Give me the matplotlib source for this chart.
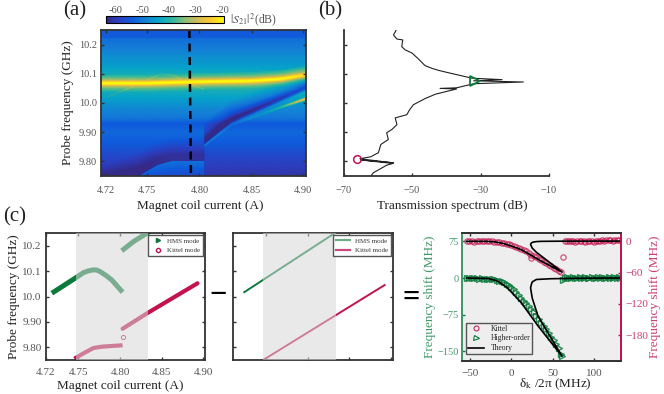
import matplotlib
matplotlib.use('Agg')
import matplotlib.pyplot as plt
from matplotlib.colors import LinearSegmentedColormap
from matplotlib.lines import Line2D
import numpy as np

plt.rcParams['font.family'] = ['Liberation Serif', 'DejaVu Serif']
plt.rcParams['mathtext.fontset'] = 'stix'

W, H = 664, 394
GREEN = '#0b7a3b'
CRIMSON = '#c2124f'
DARK = '#333333'
GRAY = '#555555'

parula = ['#352a87', '#2c3fc0', '#0f5cdd', '#1481d6', '#06a4ca', '#2eb7a4',
          '#87bf77', '#d1bb59', '#fec832', '#f9fb0e']

# panel (a): tables
base_freq = [9.75, 9.78, 9.82, 9.86, 9.90, 9.93, 9.95, 9.98, 10.00, 10.03, 10.05, 10.08,
             10.10, 10.13, 10.16, 10.20, 10.222, 10.23, 10.25]
base_db = [-61, -59, -57, -54, -52, -54, -50, -48, -46, -43, -41, -41,
           -42, -45, -47, -50, -51, -54, -54]
peak_offset = [-0.05, -0.03, -0.018, -0.01, -0.005, 0.0, 0.005, 0.01, 0.018, 0.03, 0.05]
peak_db = [-70, -41, -36, -30, -22, -18, -22, -30, -36, -41, -70]
ridge_i = [4.70, 4.75, 4.80, 4.85, 4.88, 4.905]
ridge_f = [10.07, 10.07, 10.075, 10.078, 10.085, 10.10]
arc_i = [4.712, 4.735, 4.7635, 4.775, 4.792, 4.805]
arc_f = [10.022, 10.055, 10.103, 10.098, 10.063, 10.05]
low_i = [4.70, 4.741, 4.76, 4.773, 4.805]
low_f = [9.70, 9.75, 9.79, 9.803, 9.805]
kit_i = [4.805, 4.83, 4.90, 4.905]
kit_f = [9.868, 9.94, 10.049, 10.057]
dip_offset = [-0.05, -0.01, -0.003, 0.004, 0.012, 0.03, 0.07]
dip_db = [0, 0, -10, -16, -11, -5, 0]
bright_i = [4.805, 4.83, 4.86, 4.88, 4.90, 4.905]
bright_sep = [0.012, 0.014, 0.022, 0.028, 0.035, 0.036]
bright_db = [6, 3, 4, 10, 22, 22]
bar_ticks = [-60, -50, -40, -30, -20]
dash_i = [4.7905, 4.792]
dash_f = [10.25, 9.75]

# panel (b)
spec_db = [-54.6, -55.4, -54.4, -52.7, -53, -52, -50, -48.4, -47.2, -46.2, -44, -42, -39.5, -36.9, -32.5,
           -23.7, -32, -17.5, -32, -37, -41.8, -37, -43.2, -46.2, -49.6, -50.8, -51.5, -54.9,
           -54.4, -55.8, -57.4, -56.9, -59.1, -59.8, -62, -65.2, -55.4, -65, -55.6, -57.4, -61.3, -62]
spec_f = [10.25, 10.233, 10.219, 10.216, 10.193, 10.182, 10.171, 10.154, 10.14, 10.128, 10.118, 10.111, 10.104, 10.097, 10.085,
          10.08, 10.076, 10.072, 10.066, 10.052, 10.05, 10.048, 10.03, 10.015, 9.994, 9.975, 9.96, 9.949,
          9.926, 9.91, 9.898, 9.875, 9.858, 9.83, 9.816, 9.809, 9.795, 9.805, 9.793, 9.787, 9.761, 9.75]

# panel (c), left and middle
hms1_i = [4.718, 4.746, 4.756, 4.762, 4.768, 4.772, 4.776, 4.783, 4.79, 4.803]
hms1_f = [10.013, 10.072, 10.094, 10.101, 10.105, 10.104, 10.098, 10.083, 10.065, 10.017]
hms2_i = [4.802, 4.816, 4.835]
hms2_f = [10.18, 10.216, 10.255]
kit1_i = [4.745, 4.757, 4.768, 4.775, 4.78, 4.803]
kit1_f = [9.755, 9.778, 9.797, 9.801, 9.803, 9.808]
kit2_i = [4.803, 4.834, 4.893]
kit2_f = [9.873, 9.937, 10.052]
bare_hms_i = [4.7235, 4.835]
bare_hms_f = [10.015, 10.255]
bare_kit_i = [4.747, 4.893]
bare_kit_f = [9.75, 10.047]

# panel (c), right
kit_x = [-54, -51, -48, -45, -42, -39, -36, -33, -30, -27, -24, -21, -18, -15, -12, -9, -6, -3, 0, 3, 6, 9,
         12, 15, 18, 21, 24, 24, 27, 30, 33, 36, 39, 42, 45, 48, 51, 54, 57, 60, 62,
         64, 67, 69, 72, 74, 77, 79, 82, 84, 87, 89, 92, 94, 97, 99, 102, 104, 107, 109, 112, 114, 117, 119, 122, 124, 127, 129]
kit_y = [1, 0, 1, -1, 0, 1, 0, 1, 0, 1, 0, -1, -2, -2, -3, -4, -5, -5, -7, -9, -10, -12,
         -14, -16, -19, -22, -26, -32, -28, -30, -33, -36, -39, -42, -45, -48, -51, -53, -56, -59, -30,
         1, 0, 1, 0, 1, -1, 1, 0, 0, 1, -1, 0, 1, 0, -1, 1, 0, 1, 2, 1, 3, 2, 3, 1, 2, 3, 2]
hms_x = [-54, -51, -48, -45, -42, -39, -36, -33, -30, -27, -24, -21, -18, -15, -12, -9, -6, -3, 0, 3, 6, 9,
         12, 15, 18, 21, 24, 27, 30, 33, 36, 39, 42, 45, 48, 51, 54, 57, 60, 61, 62,
         64, 67, 69, 72, 74, 77, 79, 82, 84, 87, 89, 92, 94, 97, 99, 102, 104, 107, 109, 112, 114, 117, 119, 122, 124, 127, 129, 131]
hms_y = [1, 0, 1, 0, 0, -1, 0, -1, -1, -2, -2, -3, -4, -6, -7, -9, -13, -15, -18, -23, -28, -34,
         -41, -46, -52, -57, -63, -70, -77, -84, -91, -98, -105, -112, -120, -127, -135, -143, -155, -159, -5,
         1, 2, 0, 1, 2, 0, 1, 3, 1, 0, 2, 1, 0, 2, 1, 0, 2, 1, 3, 0, 1, 2, 1, 0, 3, 1, 2, 1]
th_kit_x = [-54, -30, -20, -10, 0, 12, 24, 36, 48, 61, 44, 30, 25, 23, 24, 26, 30, 36, 60, 131]
th_kit_y = [0, 0, -1, -4, -9, -16, -27, -38, -48, -59, -38, -21, -13, -6, -3, -1.5, -0.5, 0, 0.3, 0.5]
th_hms_x = [-54, -28, -17, -5, 12, 32, 61, 32, 25, 23, 24, 25, 30, 47, 80, 131]
th_hms_y = [0, -1, -6, -20, -51, -98, -160, -78, -41, -20, -13, -8, -3, -1.5, -0.5, 0]
x_ticks = [-50, 0, 50, 100]
left_ticks = [75, 0, -75, -150]
right_ticks = [0, -60, -120, -180]


def px_axes(fig, left, top, right, bottom):
    return fig.add_axes([left / W, 1 - bottom / H, (right - left) / W, (bottom - top) / H])


def style_axes(ax, size=7.5):
    for s in ax.spines.values():
        s.set_linewidth(1.3)
        s.set_color(DARK)
    ax.tick_params(direction='in', length=2.5, width=1, color=DARK, labelcolor=GRAY,
                   labelsize=size, pad=3)


fig = plt.figure(figsize=(W / 100, H / 100), dpi=100)

# (a)
ax = px_axes(fig, 101, 30, 306, 176)
cur = np.linspace(4.706, 4.902, 420)
frq = np.linspace(9.75, 10.25, 400)
II, FF = np.meshgrid(cur, frq)
Z = np.interp(FF, base_freq, base_db)
Z = np.maximum(Z, np.interp(FF - np.interp(II, ridge_i, ridge_f), peak_offset, peak_db))
left = II < 4.805
# thin HMS arc
d = FF - np.interp(II, arc_i, arc_f)
Z = np.where(left & (II > 4.712) & (np.abs(d) < 0.002) & (Z < -30), Z + 3, Z)
# low branch left of the jump
d = FF - np.interp(II, low_i, low_f)
Z = np.where(left & (d < 0), Z + np.interp(d, [-0.06, -0.004, 0], [4, 7, 6]), Z)
Z = np.where(left & (d >= 0), Z - np.interp(d, [0, 0.02, 0.08], [4, 5, 0]), Z)
# kittel line right of the jump
d = FF - np.interp(II, kit_i, kit_f)
Z = np.where(~left, Z + np.interp(d, dip_offset, dip_db), Z)
d = FF - np.interp(II, kit_i, kit_f) + np.interp(II, bright_i, bright_sep)
amp = np.interp(II, bright_i, bright_db)
Z = np.where(~left, Z + amp * np.interp(d, [-0.008, 0, 0.008], [0, 1, 0]), Z)
cmap = LinearSegmentedColormap.from_list('parula', parula)
mesh = ax.pcolormesh(cur, frq, Z, cmap=cmap, vmin=-63.5, vmax=-19.5, shading='gouraud', rasterized=True)
ax.plot(dash_i, dash_f, color='black', lw=1.8, dashes=(3.2, 2.2))
ax.set_xlim(4.706, 4.902)
ax.set_ylim(9.75, 10.25)
ax.set_xticks([4.711, 4.75, 4.80, 4.85, 4.899])
ax.set_xticklabels(['4.72', '4.75', '4.80', '4.85', '4.90'])
ax.set_yticks([9.8, 9.9, 10.0, 10.1, 10.2])
ax.set_yticklabels(['9.80', '9.90', '10.0', '10.1', '10.2'])
style_axes(ax)
ax.tick_params(top=True, right=True)
ax.tick_params(axis='x', pad=7)
ax.set_xlabel('Magnet coil current (A)', fontsize=9.5, color='#222222', labelpad=4, x=0.485)
ax.set_ylabel('Probe frequency (GHz)', fontsize=9.5, color='#222222', labelpad=3)

cax = px_axes(fig, 106, 16, 224, 23)
cb = fig.colorbar(mesh, cax=cax, orientation='horizontal')
cb.set_ticks(bar_ticks)
cb.set_ticklabels([str(t) for t in bar_ticks])
cax.xaxis.set_ticks_position('top')
cax.tick_params(length=0, labelsize=7.5, labelcolor=GRAY, pad=1)
cb.outline.set_linewidth(0.8)
fig.text(230 / W, 1 - 19.5 / H, r'$|S_{21}|^2$(dB)', fontsize=8.5, color=GRAY, va='center')

# (b)
ax = px_axes(fig, 343.5, 30, 549, 176)
ax.plot(spec_db, spec_f, color='#222222', lw=0.8)
ax.plot([-31.5], [10.076], marker='>', ms=7, mfc='none', mec=GREEN, mew=1.3)
ax.plot([-66], [9.807], marker='o', ms=5.5, mfc='none', mec=CRIMSON, mew=1.1)
ax.set_xlim(-70, -10)
ax.set_ylim(9.75, 10.25)
ax.set_xticks([-70, -50, -30, -10])
ax.set_yticks([9.8, 9.9, 10.0, 10.1, 10.2])
ax.set_yticklabels([])
style_axes(ax)
ax.spines['top'].set_visible(False)
ax.spines['right'].set_visible(False)
ax.tick_params(axis='x', pad=7)
ax.set_xlabel('Transmission spectrum (dB)', fontsize=9.5, color='#222222', labelpad=4, x=0.53)

# (c) left
ax = px_axes(fig, 46, 233, 205, 360)
ax.plot(hms1_i, hms1_f, color=GREEN, lw=3.6, solid_capstyle='butt')
ax.plot(hms2_i, hms2_f, color=GREEN, lw=3.6, solid_capstyle='butt')
ax.plot(kit1_i, kit1_f, color=CRIMSON, lw=3, solid_capstyle='butt')
ax.plot(kit2_i, kit2_f, color=CRIMSON, lw=3, solid_capstyle='round')
ax.plot([4.803], [9.839], marker='o', ms=3, mfc='none', mec=CRIMSON, mew=0.7)
ax.axvspan(4.747, 4.8336, color='#d7d7d7', alpha=0.55, lw=0, zorder=5)
ax.set_xlim(4.711, 4.902)
ax.set_ylim(9.75, 10.25)
ax.set_xticks([4.711, 4.75, 4.80, 4.85, 4.90])
ax.set_xticklabels(['4.72', '4.75', '4.80', '4.85', '4.90'])
ax.set_yticks([9.8, 9.9, 10.0, 10.1, 10.2])
ax.set_yticklabels(['9.80', '9.90', '10.0', '10.1', '10.2'])
style_axes(ax, 8)
ax.tick_params(top=True, right=True)
ax.tick_params(axis='x', pad=6)
ax.set_xlabel('Magnet coil current (A)', fontsize=9.5, color='#222222', labelpad=2, x=0.465)
ax.set_ylabel('Probe frequency (GHz)', fontsize=9.5, color='#222222', labelpad=2)
handles = [Line2D([], [], ls='', marker='>', ms=3, color=GREEN, label='HMS mode'),
           Line2D([], [], ls='', marker='o', ms=3, mfc='none', mec=CRIMSON, label='Kittel mode')]
ax.legend(handles=handles, loc='upper right', fontsize=5, fancybox=False, edgecolor=GRAY, framealpha=1,
          borderaxespad=0.3, handletextpad=0.3, labelcolor='#333333')

fig.text(218.5 / W, 1 - 295.5 / H, '\u2212', fontsize=22, weight='bold', ha='center', va='center')
fig.text(411 / W, 1 - 298.5 / H, '=', fontsize=22, weight='bold', ha='center', va='center')

# (c) middle
ax = px_axes(fig, 233, 233, 393, 360)
ax.plot(bare_hms_i, bare_hms_f, color=GREEN, lw=1.4, solid_capstyle='butt')
ax.plot(bare_kit_i, bare_kit_f, color=CRIMSON, lw=1.4, solid_capstyle='butt')
ax.axvspan(4.747, 4.8336, color='#d7d7d7', alpha=0.55, lw=0, zorder=5)
ax.set_xlim(4.711, 4.902)
ax.set_ylim(9.75, 10.25)
ax.set_xticks([4.75, 4.80, 4.85, 4.90])
ax.set_yticks([9.8, 9.9, 10.0, 10.1, 10.2])
ax.set_xticklabels([])
ax.set_yticklabels([])
style_axes(ax)
ax.tick_params(top=True, right=True)
handles = [Line2D([], [], color='#6fae85', lw=1.6, label='HMS mode'),
           Line2D([], [], color='#c94a78', lw=1.6, label='Kittel mode')]
ax.legend(handles=handles, loc='upper right', fontsize=5, fancybox=False, edgecolor=GRAY, framealpha=1,
          borderaxespad=0.3, handlelength=2, labelcolor='#333333')

# (c) right
ax = px_axes(fig, 461.7, 233, 621, 360.7)
ax.set_facecolor('#eeeeee')
ax.plot(hms_x, hms_y, ls='', marker='>', ms=4, mfc='none', mec=GREEN, mew=1.0, alpha=0.85)
ax.plot(th_hms_x, th_hms_y, color='black', lw=1.2)
ax.set_xlim(-60, 132)
ax.set_ylim(-169, 92)
ax.set_xticks(x_ticks)
ax.set_yticks(left_ticks)
style_axes(ax, 7.5)
ax.tick_params(axis='y', labelcolor='#3f9a68', color=GREEN, pad=2)
ax.tick_params(axis='x', top=True, pad=6, labelsize=8)
ax.set_xlabel('\u03b4$_{\\mathrm{k}}$ /2\u03c0 (MHz)', fontsize=9.5, color='#222222', labelpad=-1, x=0.59)
ax.set_ylabel('Frequency shift (MHz)', fontsize=9.5, color='#3f9a68', labelpad=1)

ax2 = ax.twinx()
ax2.plot(kit_x, kit_y, ls='', marker='o', ms=3.8, mfc='none', mec=CRIMSON, mew=0.9, alpha=0.7)
ax2.plot(th_kit_x, th_kit_y, color='black', lw=1.2)
ax2.set_ylim(-229, 16)
ax2.set_yticks(right_ticks)
style_axes(ax2, 8)
ax2.tick_params(axis='y', labelcolor='#c8416f', color=CRIMSON)
ax2.set_ylabel('Frequency shift (MHz)', fontsize=9.5, color='#c8416f', labelpad=1)
for a in (ax, ax2):
    a.spines['left'].set_color('#3f9a68')
    a.spines['right'].set_color(CRIMSON)
handles = [Line2D([], [], ls='', marker='o', ms=3.6, mfc='none', mec=CRIMSON, mew=0.7, label='Kittel'),
           Line2D([], [], ls='', marker='>', ms=3.6, mfc='none', mec=GREEN, mew=0.8, label='Higher-order'),
           Line2D([], [], color='black', lw=1.2, label='Theory')]
ax2.legend(handles=handles, loc='lower left', bbox_to_anchor=(0.025, 0.05), fontsize=5.5, fancybox=False,
           edgecolor=GRAY, framealpha=1, facecolor='#eeeeee', borderaxespad=0, borderpad=0.25,
           labelspacing=0.25, handlelength=2.2, labelcolor='#222222')

fig.text(63 / W, 1 - 11 / H, '(a)', fontsize=15, color='#222222', va='center')
fig.text(318 / W, 1 - 11 / H, '(b)', fontsize=15, color='#222222', va='center')
fig.text(3 / W, 1 - 217 / H, '(c)', fontsize=15, color='#222222', va='center')

fig.savefig('out.png', dpi=100)
